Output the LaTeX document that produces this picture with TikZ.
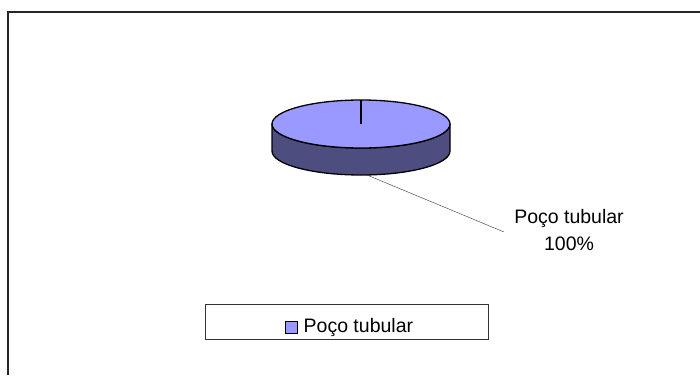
\documentclass[tikz,border=0pt]{standalone}
\usepackage{fontspec}
\setmainfont{Liberation Sans}
\usepackage{tikz}
\usetikzlibrary{positioning}
\definecolor{fettachiara}{HTML}{9999FF}
\definecolor{fettascura}{HTML}{4D4D80}

\begin{document}
\begin{tikzpicture}[x=1pt, y=-1pt,
    testo/.style={font=\fontsize{19.5}{27}\selectfont, inner sep=0pt},
    bordo/.style={line width=1.3pt, line join=round}]
    % Fissa i margini della figura
    \useasboundingbox (0,0) rectangle (700,375);

    % Disegna la cornice
    \draw[line width=1.5pt, black!85] (8,375) -- (8,12) -- (700,12);

    % Disegna il lato della torta
    \filldraw[bordo, fill=fettascura] (272,124) -- (272,151)
        arc[start angle=180, end angle=360, x radius=89pt, y radius=24pt]
        -- (450,124)
        arc[start angle=0, end angle=-180, x radius=89pt, y radius=24pt] -- cycle;

    % Disegna la faccia superiore
    \filldraw[bordo, fill=fettachiara] (361,124) ellipse [x radius=89pt, y radius=24pt];

    % Disegna il raggio della fetta
    \draw[bordo] (361,100) -- (361,124);

    % Etichetta della fetta con la linea di richiamo
    \coordinate (fetta) at (367,175);
    \node[testo, align=center, inner xsep=10pt] (etichetta) at (569,230) {Poço tubular\\100\%};
    \draw[black!80] (fetta) -- ([yshift=-2pt]etichetta.west);

    % Disegna la legenda
    \node[draw, black!80, line width=0.8pt, minimum width=283pt, minimum height=35pt] (legenda) at (346.5,321.5) {};
    \node[draw, fill=fettachiara, minimum size=12pt, inner sep=0pt, line width=0.9pt] (simbolo) at (291,327) {};
    \node[testo, right=6pt of simbolo] (voce) {Poço tubular};
\end{tikzpicture}
\end{document}
